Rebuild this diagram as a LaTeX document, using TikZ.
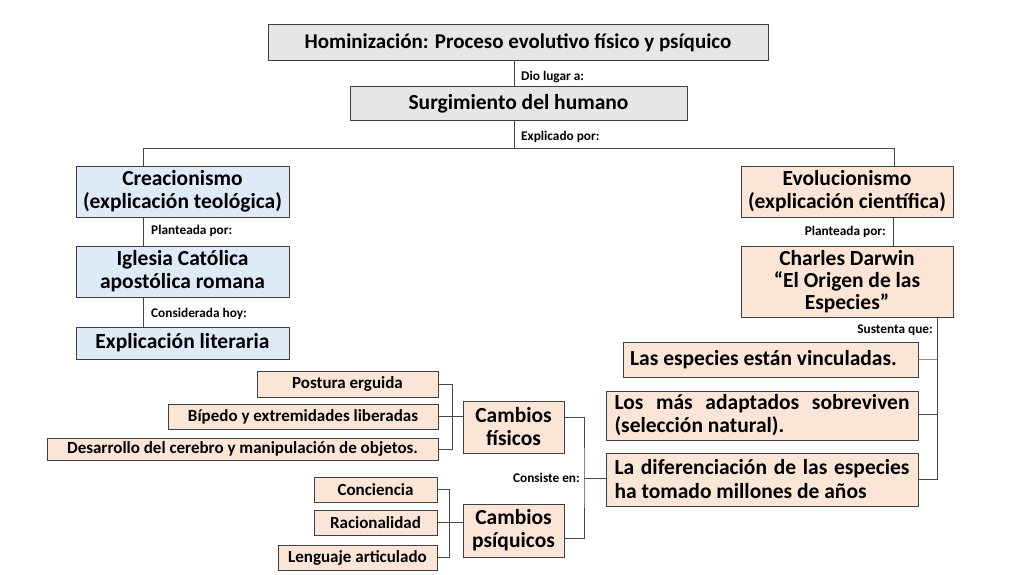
\documentclass[tikz,border=0pt]{standalone}
\usepackage{fontspec}
\setmainfont{Carlito}
\usetikzlibrary{calc}
\definecolor{grayfill}{HTML}{E7E6E6}
\definecolor{bluefill}{HTML}{DEEBF7}
\definecolor{peachfill}{HTML}{FBE5D6}
\definecolor{edgec}{HTML}{3F3F3F}
\definecolor{linec}{HTML}{474747}
\begin{document}
\begin{tikzpicture}[x=1pt,y=-1pt,
  box/.style={draw=edgec, line width=1pt, inner sep=0pt, align=center,
    font=\fontsize{21.5}{23}\selectfont\bfseries},
  graybox/.style={box, fill=grayfill},
  bluebox/.style={box, fill=bluefill},
  peachbox/.style={box, fill=peachfill},
  smallbox/.style={peachbox, font=\fontsize{17}{18}\selectfont\bfseries},
  lbl/.style={font=\fontsize{13.3}{15}\selectfont\bfseries, inner sep=0pt},
  conn/.style={draw=linec, line width=0.9pt},
  lightconn/.style={draw=black!45, line width=1.6pt}]
\useasboundingbox[fill=white] (0,0) rectangle (1020,575);

% boxes
\node[graybox, minimum width=500, minimum height=36, font=\fontsize{21}{23}\selectfont\bfseries] (top) at (518,43) {Hominización: Proceso evolutivo físico y psíquico};
\node[graybox, minimum width=337, minimum height=34] (surg) at (518.5,104) {Surgimiento del humano};
\node[bluebox, minimum width=213, minimum height=51] (crea) at (182.5,191.5) {Creacionismo\\(explicación teológica)};
\node[bluebox, minimum width=213, minimum height=51] (igle) at (182.5,271.5) {Iglesia Católica\\apostólica romana};
\node[bluebox, minimum width=213, minimum height=32] (lit) at (182.5,343) {Explicación literaria};
\node[peachbox, minimum width=212, minimum height=51] (evol) at (847,191.5) {Evolucionismo\\(explicación científica)};
\node[peachbox, minimum width=212, minimum height=71, font=\fontsize{21.5}{22}\selectfont\bfseries] (darw) at (847,281.5) {\rule{0pt}{4pt}Charles Darwin\\“El Origen de las\\Especies”};
\node[peachbox, minimum width=295, minimum height=35] (vinc) at (770.5,359.5) {Las especies están vinculadas.\hspace{14pt}};
\node[peachbox, minimum width=312, minimum height=49, align=left] (adap) at (762,415.5)
  {\makebox[295pt][s]{Los más adaptados sobreviven}\\(selección natural).};
\node[peachbox, minimum width=312, minimum height=53, align=left, font=\fontsize{21.5}{24}\selectfont\bfseries] (dif) at (762,479.5)
  {\makebox[295pt][s]{La diferenciación de las especies}\\ha tomado millones de años};
\node[peachbox, minimum width=101, minimum height=52] (fis) at (513.5,427) {Cambios\\físicos};
\node[peachbox, minimum width=101, minimum height=53] (psi) at (513.5,530.5) {Cambios\\psíquicos};
\node[smallbox, minimum width=181, minimum height=26] (post) at (347.5,384) {Postura erguida};
\node[smallbox, minimum width=270, minimum height=25] (bip) at (303,416.5) {Bípedo y extremidades liberadas};
\node[smallbox, minimum width=391, minimum height=22] (desa) at (242.5,449) {Desarrollo del cerebro y manipulación de objetos.};
\node[smallbox, minimum width=123, minimum height=25] (conc) at (375.5,489.5) {Conciencia};
\node[smallbox, minimum width=123, minimum height=25] (raci) at (375.5,522.5) {Racionalidad};
\node[smallbox, minimum width=159, minimum height=25] (leng) at (357.5,557.5) {Lenguaje articulado};

% guide coordinates
\coordinate (mx) at (514,0);
\coordinate (lx) at (143,148);
\coordinate (rx) at (894,148);
\coordinate (hl) at (514,148);
\coordinate (ex) at (893,0);
\coordinate (sx) at (937,0);
\coordinate (cx) at (584,478);
\coordinate (bf) at (452,0);
\coordinate (bp) at (449,0);

% connectors
\draw[conn] (top.south -| mx) -- (surg.north -| mx);
\draw[conn] (surg.south -| mx) -- (hl);
\draw[conn] (crea.north -| lx) -- (lx) -- (rx) -- (evol.north -| rx);
\draw[conn] (crea.south -| lx) -- (igle.north -| lx);
\draw[conn] (igle.south -| lx) -- (lit.north -| lx);
\draw[conn] (evol.south -| ex) -- (darw.north -| ex);
\draw[conn] (darw.south -| sx) -- (dif.east -| sx) -- (dif.east);
\draw[lightconn] (vinc.east) -- (vinc.east -| sx);
\draw[conn] ([yshift=1.5pt]adap.east) -- ([yshift=1.5pt]adap.east -| sx);
\draw[conn] ([yshift=10pt]fis.east) -| (cx) |- ([yshift=-7.5pt]psi.east);
\draw[conn] (cx) -- (cx -| dif.west);
\draw[conn] (post.east) -- (post.east -| bf) -- (desa.east -| bf) -- (desa.east);
\draw[conn] (bip.east) -- (bip.east -| fis.west);
\draw[conn] (conc.east) -- (conc.east -| bp) -- (leng.east -| bp) -- (leng.east);
\draw[conn] (raci.east) -- (raci.east -| psi.west);

% labels
\node[lbl, anchor=west] (l1) at (521,77) {Dio lugar a:};
\node[lbl, anchor=west] (l2) at (521,137) {Explicado por:};
\node[lbl, anchor=west] (l3) at (151,231) {Planteada por:};
\node[lbl, anchor=west] (l4) at (151,314) {Considerada hoy:};
\node[lbl, anchor=east] (l5) at (886,232) {Planteada por:};
\node[lbl, anchor=east] (l6) at (933,330) {Sustenta que:};
\node[lbl, anchor=east] (l7) at (580,478) {Consiste en:};
\end{tikzpicture}
\end{document}
